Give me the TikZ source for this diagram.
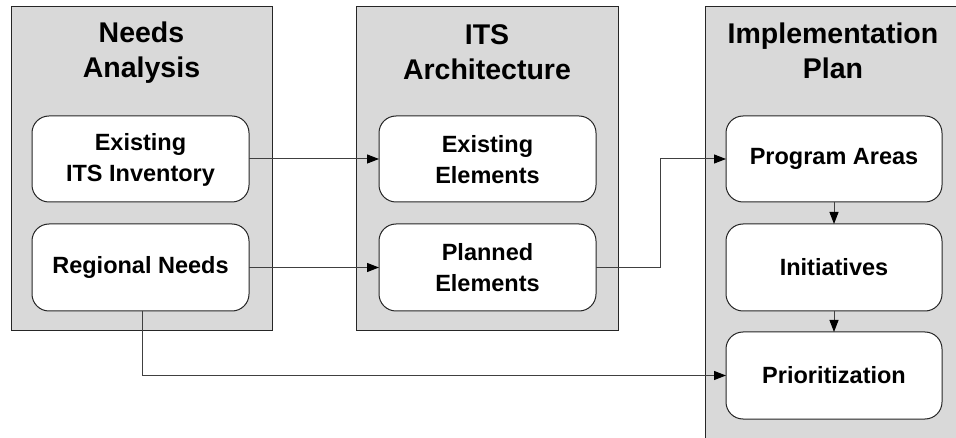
\documentclass[tikz,border=0pt]{standalone}
\usepackage{fontspec}
\setmainfont{Liberation Sans}
\usetikzlibrary{arrows.meta}
\definecolor{panelgray}{RGB}{217,217,217}
\definecolor{linegray}{RGB}{64,64,64}
\tikzset{
  panel/.style={draw=black!85, fill=panelgray, line width=1pt},
  stage/.style={draw=black!85, fill=white, line width=1pt, rounded corners=17pt},
  titletext/.style={font=\fontsize{28.5}{35}\selectfont\bfseries, align=center, inner sep=0pt},
  itemtext/.style={font=\fontsize{23.5}{31}\selectfont\bfseries, align=center, inner sep=0pt},
  conn/.style={draw=linegray, line width=1pt, -{Triangle[length=12pt,width=9pt,color=black]}},
}
\begin{document}
\begin{tikzpicture}[x=1pt,y=-1pt]
\clip (0,0) rectangle (956,438);
\fill[white] (0,0) rectangle (956,438);
% panels
\draw[panel] (11,7) rectangle (272,331);
\draw[panel] (356,7) rectangle (618,331);
\draw[panel] (705,7) rectangle (970,450);
% titles
\node[titletext] (t1) at (141.5,53) {Needs\\Analysis};
\node[titletext] (t2) at (487,52) {ITS\\Architecture};
\node[titletext] (t3) at (833,51) {Implementation\\Plan};
% inner boxes
\draw[stage] (32,116) rectangle (249,202);
\node[itemtext] (inv) at (140.5,160) {Existing\\ITS Inventory};
\draw[stage] (32,224) rectangle (249,311);
\node[itemtext] (reg) at (140.5,267.5) {Regional Needs};
\draw[stage] (379,116) rectangle (596,202);
\node[itemtext] (exe) at (487.5,160) {Existing\\Elements};
\draw[stage] (379,224) rectangle (596,311);
\node[itemtext] (ple) at (487.5,268) {Planned\\Elements};
\draw[stage] (726,116) rectangle (942,202);
\node[itemtext] (pra) at (834,159) {Program Areas};
\draw[stage] (726,224) rectangle (942,311);
\node[itemtext] (ini) at (834,267.5) {Initiatives};
\draw[stage] (726,332) rectangle (942,419);
\node[itemtext] (pri) at (834,375.5) {Prioritization};
% anchor coordinates at box edges
\coordinate (invR) at (249,159);
\coordinate (regR) at (249,267.5);
\coordinate (regB) at (142,311);
\coordinate (exeL) at (379,159);
\coordinate (pleL) at (379,267.5);
\coordinate (pleR) at (596,267.5);
\coordinate (praL) at (726,159);
\coordinate (praB) at (834,202);
\coordinate (iniT) at (834,224);
\coordinate (iniB) at (834,311);
\coordinate (priT) at (834,332);
\coordinate (priL) at (726,375.5);
% connectors
\draw[conn] (invR) -- (exeL);
\draw[conn] (regR) -- (pleL);
\draw[conn] (pleR) -- (660,267.5) -- (660,159) -- (praL);
\draw[conn] (regB) -- (142,375.5) -- (priL);
\draw[conn] (praB) -- (iniT);
\draw[conn] (iniB) -- (priT);
\end{tikzpicture}
\end{document}
